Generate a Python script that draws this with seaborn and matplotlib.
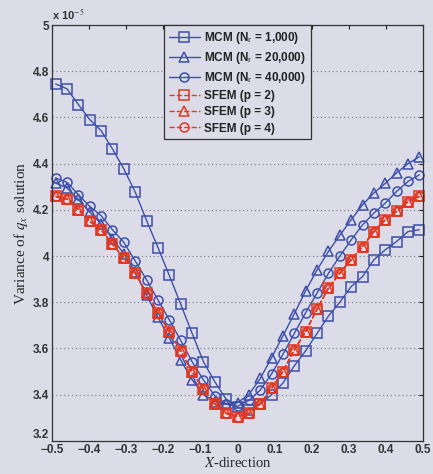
import numpy as np
import pandas as pd
import matplotlib
matplotlib.use("Agg")
import matplotlib.pyplot as plt
import seaborn as sns

# ---- data (variance in units of 1e-5) ----
x_pos = np.linspace(-0.49, 0.49, 33)

mcm_1000 = [4.745, 4.724, 4.656, 4.591, 4.543, 4.464, 4.377, 4.277, 4.154, 4.037, 3.916,
            3.792, 3.666, 3.543, 3.456, 3.380, 3.345, 3.334, 3.360, 3.400, 3.450, 3.525,
            3.590, 3.665, 3.740, 3.800, 3.868, 3.911, 3.984, 4.027, 4.063, 4.106, 4.114]
mcm_20000 = [4.316, 4.295, 4.245, 4.190, 4.140, 4.075, 4.010, 3.930, 3.830, 3.735, 3.645,
             3.550, 3.465, 3.400, 3.370, 3.360, 3.365, 3.400, 3.470, 3.560, 3.655, 3.750,
             3.850, 3.940, 4.020, 4.090, 4.157, 4.222, 4.273, 4.315, 4.360, 4.400, 4.430]
mcm_40000 = [4.338, 4.319, 4.266, 4.215, 4.175, 4.114, 4.059, 3.979, 3.897, 3.810, 3.724,
             3.635, 3.543, 3.464, 3.395, 3.360, 3.350, 3.375, 3.420, 3.490, 3.575, 3.665,
             3.755, 3.840, 3.925, 4.000, 4.070, 4.135, 4.186, 4.229, 4.280, 4.323, 4.352]
sfem_p2 = [4.258, 4.247, 4.201, 4.150, 4.114, 4.052, 3.991, 3.926, 3.840, 3.755, 3.673,
           3.590, 3.500, 3.423, 3.360, 3.319, 3.305, 3.319, 3.360, 3.428, 3.500, 3.594,
           3.673, 3.770, 3.861, 3.926, 3.984, 4.041, 4.106, 4.157, 4.193, 4.236, 4.258]
sfem_p3 = list(sfem_p2)
sfem_p4 = list(sfem_p2)

labels = [r"MCM (N$_{\rm r}$ = 1,000)", r"MCM (N$_{\rm r}$ = 20,000)", r"MCM (N$_{\rm r}$ = 40,000)",
          "SFEM (p = 2)", "SFEM (p = 3)", "SFEM (p = 4)"]
series = [mcm_1000, mcm_20000, mcm_40000, sfem_p2, sfem_p3, sfem_p4]
markers = ["s", "^", "o", "s", "^", "o"]

y_ticks = [3.2, 3.4, 3.6, 3.8, 4.0, 4.2, 4.4, 4.6, 4.8, 5.0]
y_tick_labels = ["3.2", "3.4", "3.6", "3.8", "4", "4.2", "4.4", "4.6", "4.8", "5"]
x_ticks = [-0.5, -0.4, -0.3, -0.2, -0.1, 0.0, 0.1, 0.2, 0.3, 0.4, 0.5]
x_tick_labels = ["\u22120.5", "\u22120.4", "\u22120.3", "\u22120.2", "\u22120.1", "0",
                 "0.1", "0.2", "0.3", "0.4", "0.5"]

# ---- style ----
sns.set_theme(style="white")
bg = "#dcdce8"
blue = "#3d4fa8"
red = "#e2361f"
plt.rcParams["font.family"] = ["Liberation Sans", "DejaVu Sans"]
plt.rcParams["mathtext.fontset"] = "stix"

fig = plt.figure(figsize=(4.33, 4.74), dpi=100, facecolor=bg)
ax = fig.add_axes([0.120, 0.070, 0.857, 0.877])
ax.set_facecolor(bg)

for i, (vals, lab, mk) in enumerate(zip(series, labels, markers)):
    df = pd.DataFrame({"x": x_pos, "y": vals})
    col = blue if i < 3 else red
    ls = "-" if i < 3 else "--"
    sns.lineplot(data=df, x="x", y="y", ax=ax, color=col, linestyle=ls, linewidth=1.0,
                 marker=mk, markersize=6.5, markerfacecolor="none", markeredgecolor=col,
                 markeredgewidth=1.1, label=lab, sort=False, estimator=None, clip_on=False)

ax.set_xlim(-0.5, 0.5)
ax.set_ylim(3.2, 5.0)
ax.set_xticks(x_ticks)
ax.set_xticklabels(x_tick_labels)
ax.set_yticks(y_ticks)
ax.set_yticklabels(y_tick_labels)
ax.tick_params(direction="in", top=True, right=True, length=3, width=0.8,
               labelsize=8.5, pad=2, colors="#222222")
for lab in ax.get_xticklabels() + ax.get_yticklabels():
    lab.set_fontweight("bold")
    lab.set_color("#333333")
# lift the bottom y label slightly, as in the reference corner
ax.get_yticklabels()[0].set_verticalalignment("bottom")
ax.yaxis.grid(True, linestyle=(0, (1, 2.5)), color="#777777", linewidth=0.8)
ax.xaxis.grid(False)
for sp in ax.spines.values():
    sp.set_color("#333333")
    sp.set_linewidth(0.9)

ax.set_xlabel(r"$X$-direction", family="Liberation Serif", fontsize=10.5, labelpad=0)
ax.set_ylabel(r"Variance of $q_x$ solution", family="Liberation Serif", fontsize=11, labelpad=2)
ax.text(0.0, 1.008, r"x 10$^{-5}$", transform=ax.transAxes, fontsize=8,
        fontweight="bold", color="#333333", ha="left", va="bottom")

leg = ax.legend(loc="upper center", bbox_to_anchor=(0.5, 1.0), borderaxespad=0,
                fancybox=False, frameon=True, fontsize=8.5, handlelength=2.6,
                labelspacing=0.35, borderpad=0.4, handletextpad=0.4)
leg.get_frame().set_edgecolor("#333333")
leg.get_frame().set_facecolor(bg)
leg.get_frame().set_alpha(1.0)
leg.get_frame().set_linewidth(0.9)
for t in leg.get_texts():
    t.set_fontweight("bold")
    t.set_color("#222222")

fig.savefig("out.png", dpi=100, facecolor=bg)
